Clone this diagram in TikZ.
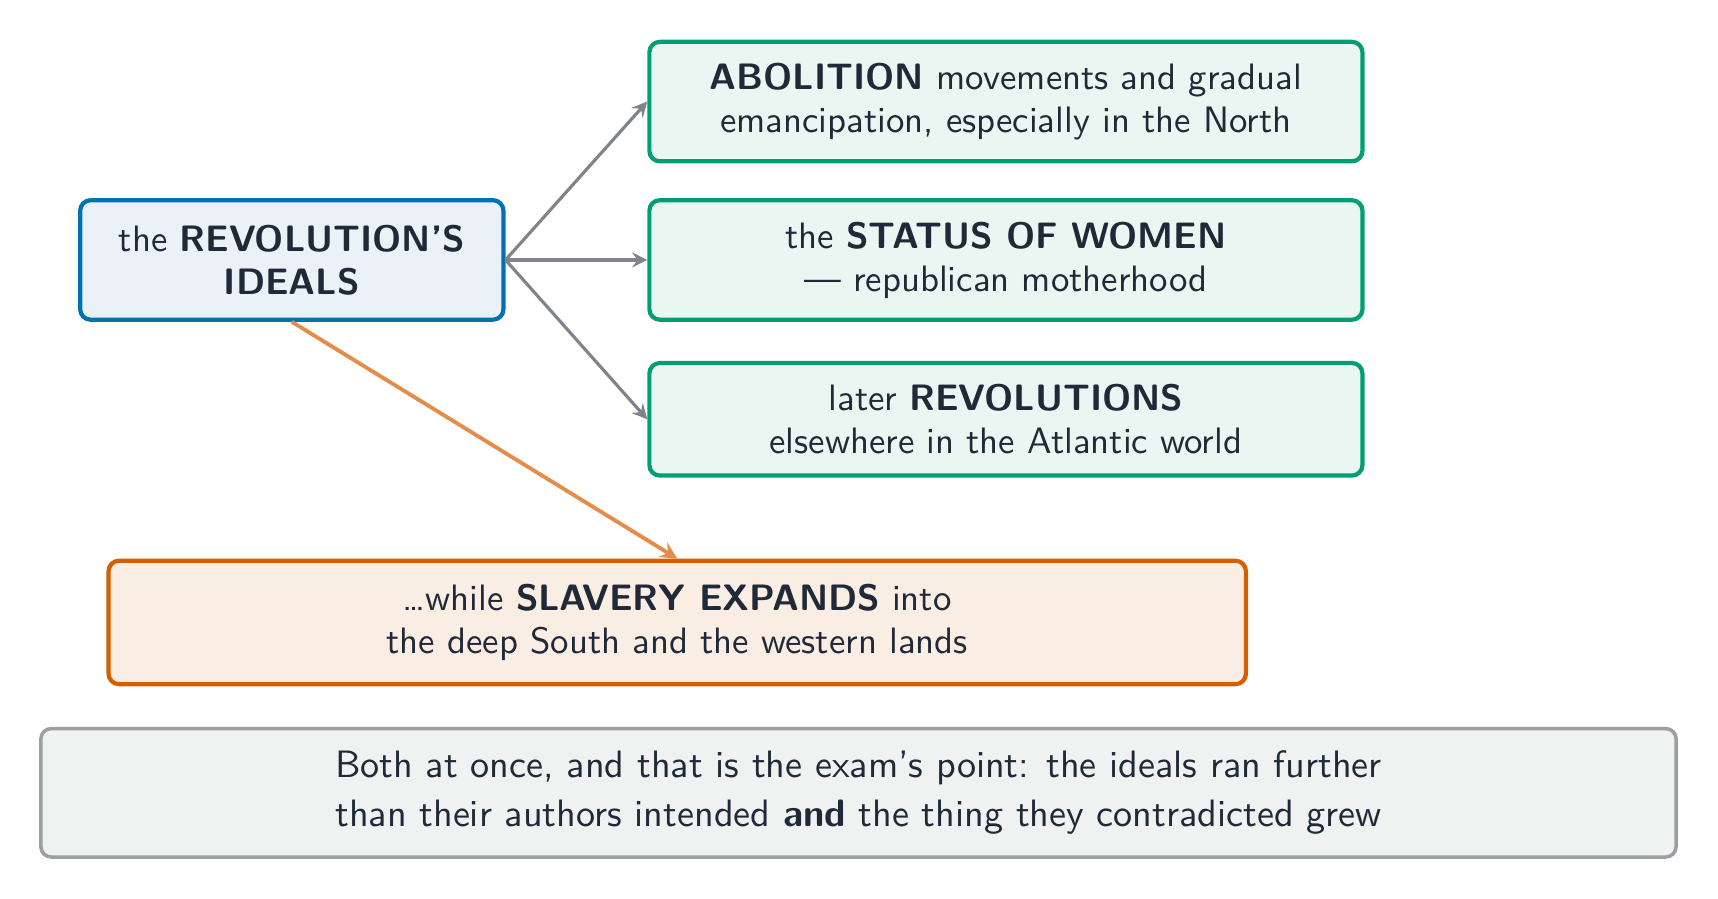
\documentclass[tikz,border=0pt]{standalone}
\usepackage{tikz}
\usetikzlibrary{positioning}
\usepackage{xcolor}
\definecolor{inkdark}{RGB}{31,41,55}
\definecolor{idealblue}{RGB}{0,114,178}
\definecolor{idealfill}{RGB}{234,242,248}
\definecolor{effectgreen}{RGB}{0,158,115}
\definecolor{effectfill}{RGB}{234,246,241}
\definecolor{slaveorange}{RGB}{213,94,0}
\definecolor{slavefill}{RGB}{250,237,228}
\definecolor{slavearrow}{RGB}{228,140,72}
\definecolor{notegray}{RGB}{155,158,163}
\definecolor{notefill}{RGB}{240,242,242}
\definecolor{arrowgray}{RGB}{128,131,140}

\begin{document}
\begin{tikzpicture}[>=stealth, font=\sffamily\fontsize{10.5}{12.3}\selectfont, text=inkdark]
    \tikzstyle{box}=[draw, rounded corners=3pt, line width=1.2pt, align=center, inner sep=0pt]
    \tikzstyle{effect}=[box, draw=effectgreen, fill=effectfill, minimum width=7.16cm]
    \tikzstyle{link}=[->, line width=0.9pt, arrowgray]

    \useasboundingbox (0,0) rectangle (17.25,9.02);

    % Source of the ideals
    \node[box, draw=idealblue, fill=idealfill, minimum width=4.25cm, minimum height=1.2cm] (ideals) at (2.93,6.41)
        {the \textbf{REVOLUTION'S}\\\textbf{IDEALS}};

    % What the ideals led to
    \node[effect, minimum height=1.2cm] (abolition) at (10.10,8.00)
        {\textbf{ABOLITION} movements and gradual\\emancipation, especially in the North};
    \node[effect, minimum height=1.2cm] (women) at (10.10,6.41)
        {the \textbf{STATUS OF WOMEN}\\--- republican motherhood};
    \node[effect, minimum height=1.13cm] (later) at (10.10,4.81)
        {later \textbf{REVOLUTIONS}\\elsewhere in the Atlantic world};

    % The contradiction
    \node[box, draw=slaveorange, fill=slavefill, minimum width=11.42cm, minimum height=1.24cm] (slavery) at (6.80,2.77)
        {…while \textbf{SLAVERY EXPANDS} into\\the deep South and the western lands};

    % Closing note
    \node[box, draw=notegray, fill=notefill, line width=1pt, minimum width=16.42cm, minimum height=1.29cm,
        font=\sffamily\fontsize{10.9}{14.1}\selectfont] (note) at (8.62,1.06)
        {Both at once, and that is the exam's point: the ideals ran further\\than their authors intended \textbf{and} the thing they contradicted grew};

    % Arrows
    \draw[link] (ideals.east) -- (abolition.west);
    \draw[link] (ideals.east) -- (women.west);
    \draw[link] (ideals.east) -- (later.west);
    \draw[->, line width=1.1pt, slavearrow] (ideals.south) -- (slavery.north);
\end{tikzpicture}
\end{document}
